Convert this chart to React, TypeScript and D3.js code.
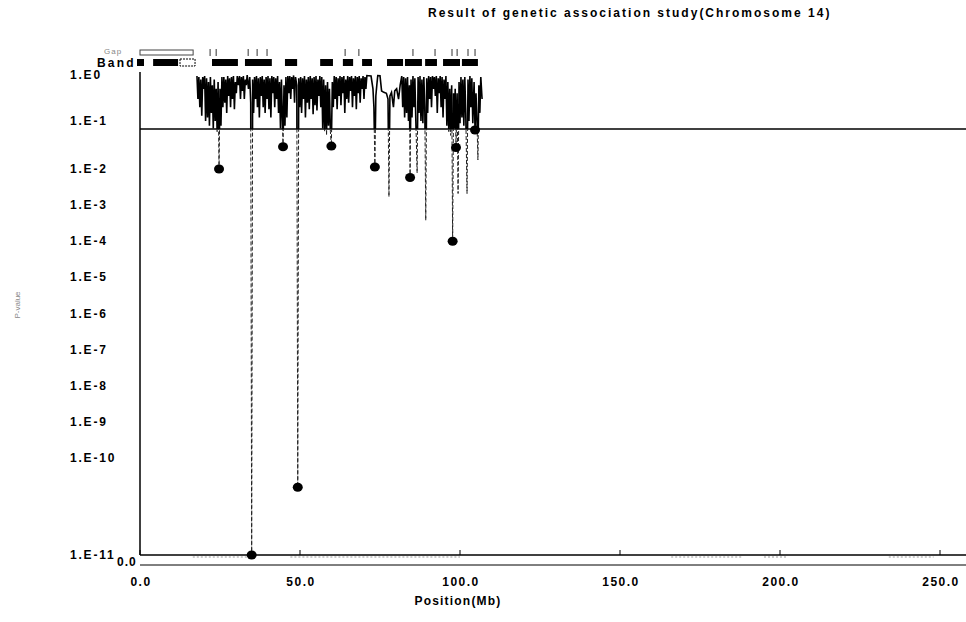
import React from "react";
import * as d3 from "d3";

// ---- data ----
const title = "Result of genetic association study(Chromosome 14)";
const xLabel = "Position(Mb)";
const yLabel = "P-value";
const xTicks = [0, 50, 100, 150, 200, 250];
const yTickExps = [0, -1, -2, -3, -4, -5, -6, -7, -8, -9, -10, -11];
const yTickLabels = ["1.E0", "1.E-1", "1.E-2", "1.E-3", "1.E-4", "1.E-5", "1.E-6", "1.E-7", "1.E-8", "1.E-9", "1.E-10", "1.E-11"];
const threshold = 0.068;

// SNP p-values along chromosome 14: [position Mb, p]
const snpData: [number, number][] = [
  [17.8, 0.95], [18.1, 0.3], [18.4, 0.9], [18.7, 0.2], [19.0, 0.8], [19.3, 0.13], [19.6, 0.9], [19.9, 0.5], [20.2, 0.95],
  [20.5, 0.1], [20.8, 0.85], [21.1, 0.12], [21.4, 0.7], [21.7, 0.08], [22.0, 0.9], [22.3, 0.15], [22.6, 0.6], [22.9, 0.07], [23.2, 0.8], [23.5, 0.1], [23.8, 0.5], [24.1, 0.06], [24.4, 0.7], [24.7, 0.01], [25.0, 0.5], [25.3, 0.08], [25.6, 0.9], [25.9, 0.2],
  [26.2, 0.9], [26.5, 0.25], [26.8, 0.8], [27.1, 0.15], [27.4, 0.95], [27.7, 0.35], [28.0, 0.85], [28.3, 0.2], [28.6, 0.9], [28.9, 0.3], [29.2, 0.95], [29.5, 0.18], [29.8, 0.7], [30.1, 0.4], [30.4, 0.95],
  [30.8, 0.6], [31.1, 0.95], [31.4, 0.3], [31.7, 0.9], [32.0, 0.45], [32.3, 0.95], [32.6, 0.3], [32.9, 0.8], [33.2, 0.6], [33.5, 1.0], [33.9, 0.5], [34.3, 0.9], [34.6, 0.25], [34.9, 1e-11], [35.2, 0.8],
  [35.5, 0.15], [35.8, 0.9], [36.1, 0.3], [36.4, 0.95], [36.7, 0.2], [37.0, 0.85], [37.3, 0.12], [37.6, 0.9], [37.9, 0.35], [38.2, 0.95], [38.5, 0.2], [38.8, 0.8], [39.1, 0.15], [39.4, 0.9], [39.7, 0.3], [40.0, 0.95], [40.3, 0.18], [40.6, 0.85], [40.9, 0.12], [41.2, 0.95], [41.5, 0.4], [41.8, 0.9], [42.1, 0.2], [42.4, 0.85], [42.7, 0.3], [43.0, 0.95], [43.3, 0.15], [43.6, 0.7],
  [43.9, 0.07], [44.2, 0.8], [44.5, 0.1], [44.7, 0.029], [45.0, 0.6], [45.3, 0.08], [45.6, 0.9], [45.9, 0.12], [46.2, 0.95],
  [46.5, 0.4], [46.8, 0.95], [47.1, 0.3], [47.4, 0.9], [47.7, 0.5], [48.0, 0.98], [48.3, 0.25], [48.6, 0.9], [49.0, 0.6], [49.3, 5e-11], [49.6, 0.85],
  [49.9, 0.2], [50.2, 0.9], [50.5, 0.15], [50.8, 0.85], [51.1, 0.3], [51.4, 0.95], [51.7, 0.12], [52.0, 0.8], [52.3, 0.25], [52.6, 0.9], [52.9, 0.18], [53.2, 0.95], [53.5, 0.3], [53.8, 0.85], [54.1, 0.14], [54.4, 0.9], [54.7, 0.22], [55.0, 0.95], [55.3, 0.17], [55.6, 0.8], [55.9, 0.35], [56.2, 0.95], [56.5, 0.2],
  [56.8, 0.9], [57.1, 0.07], [57.4, 0.8], [57.7, 0.06], [58.0, 0.6], [58.3, 0.05], [58.6, 0.7], [58.9, 0.08], [59.2, 0.5], [59.5, 0.06], [59.8, 0.03], [60.1, 0.7],
  [60.4, 0.2], [60.7, 0.95], [61.0, 0.3], [61.3, 0.9], [61.6, 0.18], [61.9, 0.85], [62.2, 0.35], [62.5, 0.95], [62.8, 0.22], [63.1, 0.9], [63.4, 0.4], [63.7, 0.95], [64.0, 0.15], [64.3, 0.8], [64.6, 0.3], [64.9, 0.95], [65.2, 0.25], [65.5, 0.9], [65.8, 0.45], [66.1, 0.95], [66.4, 0.2], [66.7, 0.85], [67.0, 0.35], [67.3, 0.95], [67.6, 0.18], [67.9, 0.9], [68.2, 0.4], [68.5, 0.95], [68.8, 0.25], [69.1, 0.85], [69.4, 0.5], [69.7, 0.95], [70.0, 0.3],
  [70.3, 0.9], [70.6, 0.5], [70.9, 0.97], [71.5, 0.96], [72.2, 0.95], [72.8, 0.5], [73.1, 0.2], [73.4, 0.011], [73.7, 0.35], [74.0, 0.6], [74.3, 0.97], [75.0, 0.96], [75.5, 0.45], [76.2, 0.42], [77.0, 0.4], [77.5, 0.3], [77.8, 0.0017], [78.1, 0.35], [78.6, 0.42], [79.2, 0.2], [79.6, 0.45], [80.2, 0.5], [80.8, 0.3], [81.3, 0.6], [81.8, 0.95],
  [82.1, 0.2], [82.4, 0.9], [82.7, 0.12], [83.0, 0.85], [83.3, 0.15], [83.6, 0.9], [83.9, 0.1], [84.2, 0.6], [84.4, 0.0058], [84.7, 0.8], [85.0, 0.12], [85.3, 0.95], [85.6, 0.2], [85.9, 0.85], [86.2, 0.1], [86.6, 0.0078], [86.9, 0.9], [87.2, 0.15], [87.5, 0.95], [87.8, 0.1], [88.1, 0.8], [88.4, 0.09], [88.7, 0.9], [89.0, 0.2], [89.3, 3.8e-4], [89.6, 0.85], [89.9, 0.15], [90.2, 0.95], [90.5, 0.3], [90.8, 0.9], [91.1, 0.2], [91.4, 0.95], [91.7, 0.5], [92.0, 0.9], [92.3, 0.35], [92.6, 0.95], [92.9, 0.15], [93.2, 0.85], [93.5, 0.4], [93.8, 0.95], [94.1, 0.2], [94.4, 0.9], [94.7, 0.12], [95.0, 0.8], [95.3, 0.3], [95.6, 0.95],
  [95.9, 0.08], [96.2, 0.7], [96.5, 0.06], [96.8, 0.5], [97.1, 0.05], [97.4, 0.6], [97.7, 1.0e-4], [98.0, 0.4], [98.3, 0.07], [98.5, 0.5], [98.75, 0.028], [99.1, 0.4], [99.4, 0.0021], [99.7, 0.7], [100.0, 0.09],
  [100.3, 0.9], [100.6, 0.12], [100.9, 0.8], [101.2, 0.08], [101.5, 0.9], [101.8, 0.15], [102.2, 0.0021], [102.5, 0.8], [102.8, 0.1], [103.1, 0.95], [103.4, 0.2], [103.7, 0.85], [104.0, 0.09], [104.4, 0.7], [104.7, 0.065], [105.0, 0.4], [105.3, 0.1], [105.6, 0.0155], [105.9, 0.6], [106.2, 0.15], [106.5, 0.9], [106.9, 0.3],
];

// highlighted SNPs (circles)
const markedSnps: [number, number][] = [
  [24.7, 0.01], [34.9, 1e-11], [44.7, 0.029], [49.3, 5e-11], [59.8, 0.03],
  [73.4, 0.011], [84.4, 0.0058], [97.7, 1.0e-4], [98.75, 0.028], [104.7, 0.065],
];

// cytogenetic band blocks [start, end] Mb
const bands: [number, number][] = [
  [4.1, 11.9], [22.5, 30.6], [32.8, 41.2], [45.3, 49.1], [56.3, 60.3], [63.4, 66.6],
  [69.4, 72.5], [77.2, 82.2], [82.8, 88.1], [89.1, 92.8], [94.7, 100.0], [100.6, 105.6],
];
const centromere: [number, number] = [12.5, 17.2];
// gap track
const gapRegion: [number, number] = [0, 16.6];
const gapMarks = [21.9, 23.8, 33.8, 36.6, 39.7, 64.1, 68.4, 85.3, 92.2, 97.5, 99.1, 102.5, 104.7];
// SNP density segments under the axis [start, end] Mb
const densitySegments: [number, number][] = [
  [16.5, 34.0], [47.0, 100.0], [166.0, 188.0], [195.0, 202.0], [234.0, 248.0],
];

export default function App() {
  const W = 966, H = 622;
  const x = d3.scaleLinear().domain([0, 250]).range([140, 940]);
  const yExp = d3.scaleLinear().domain([0, -1, -2, -10, -11]).range([75, 121, 169, 458, 555]).clamp(true);
  const y = (p: number) => yExp(Math.log10(p));
  const line = d3.line<[number, number]>().x(d => x(d[0])).y(d => y(d[1]));
  const font = "'Liberation Sans', Arial, sans-serif";
  const axisY = 555;
  const trackY = 565;
  const yT = y(threshold);
  const pathD = line(snpData) || "";

  return (
    <svg width={W} height={H} style={{ position: "absolute", left: 0, top: 0, background: "#fff" }} fontFamily={font}>
      <defs>
        <clipPath id="above"><rect x={0} y={0} width={W} height={yT} /></clipPath>
        <clipPath id="below"><rect x={0} y={yT} width={W} height={H - yT} /></clipPath>
      </defs>
      <rect x={0} y={0} width={W} height={H} fill="#fff" />
      <text x={428} y={17} fontSize={12} fontWeight="bold" letterSpacing={2}>{title}</text>

      {/* gap track */}
      <text x={104} y={54} fontSize={8} fill="#888" letterSpacing={1}>Gap</text>
      <rect x={x(gapRegion[0])} y={50} width={x(gapRegion[1]) - x(gapRegion[0])} height={5} fill="none" stroke="#444" strokeWidth={1} />
      {gapMarks.map((g, i) => (
        <line key={"g" + i} x1={x(g)} x2={x(g)} y1={49} y2={56} stroke="#333" strokeWidth={1} />
      ))}

      {/* band track */}
      <text x={97} y={67} fontSize={12} fontWeight="bold" letterSpacing={2.2}>Band</text>
      <rect x={137} y={59} width={7} height={7} fill="#000" />
      {bands.map((b, i) => (
        <rect key={"b" + i} x={x(b[0])} y={59} width={x(b[1]) - x(b[0])} height={7} fill="#000" />
      ))}
      <rect x={x(centromere[0])} y={59} width={x(centromere[1]) - x(centromere[0])} height={7} fill="#fff" stroke="#000" strokeWidth={1} strokeDasharray="2,1" />

      {/* y tick labels */}
      {yTickExps.map((e, i) => (
        <text key={"yt" + i} x={70} y={yExp(e) + 4} fontSize={12} fontWeight="bold" letterSpacing={1.8}>{yTickLabels[i]}</text>
      ))}
      <text transform={`translate(20,305) rotate(-90)`} textAnchor="middle" fontSize={8} fill="#888">{yLabel}</text>

      {/* axes */}
      <line x1={140} x2={140} y1={72} y2={axisY} stroke="#000" strokeWidth={1.5} />
      <line x1={140} x2={W} y1={axisY} y2={axisY} stroke="#000" strokeWidth={1.5} />
      {xTicks.map((t, i) => (
        <line key={"xt" + i} x1={x(t)} x2={x(t)} y1={axisY - 5} y2={axisY} stroke="#000" strokeWidth={1} />
      ))}
      {densitySegments.map((s, i) => (
        <line key={"d" + i} x1={x(s[0])} x2={x(s[1])} y1={axisY + 2} y2={axisY + 2} stroke="#999" strokeWidth={1} strokeDasharray="2,2" />
      ))}
      <line x1={140} x2={W} y1={trackY} y2={trackY} stroke="#000" strokeWidth={1} />
      <text x={117} y={trackY + 1} fontSize={12} fontWeight="bold" letterSpacing={1}>0.0</text>
      {xTicks.map((t, i) => (
        <text key={"xl" + i} x={x(t) + 1} y={586} textAnchor="middle" fontSize={12} fontWeight="bold" letterSpacing={1.5}>{d3.format(".1f")(t)}</text>
      ))}
      <text x={458} y={605} textAnchor="middle" fontSize={12} fontWeight="bold" letterSpacing={1.2}>{xLabel}</text>

      {/* threshold */}
      <line x1={140} x2={W} y1={yT} y2={yT} stroke="#000" strokeWidth={1.5} />

      {/* p-value line */}
      <path d={pathD} fill="none" stroke="#000" strokeWidth={1.6} clipPath="url(#above)" />
      <path d={pathD} fill="none" stroke="#222" strokeWidth={1} strokeDasharray="4,2" clipPath="url(#below)" />

      {/* marked SNPs */}
      {markedSnps.map((m, i) => (
        <ellipse key={"m" + i} cx={x(m[0])} cy={y(m[1])} rx={5} ry={4.5} fill="#000" />
      ))}
    </svg>
  );
}
